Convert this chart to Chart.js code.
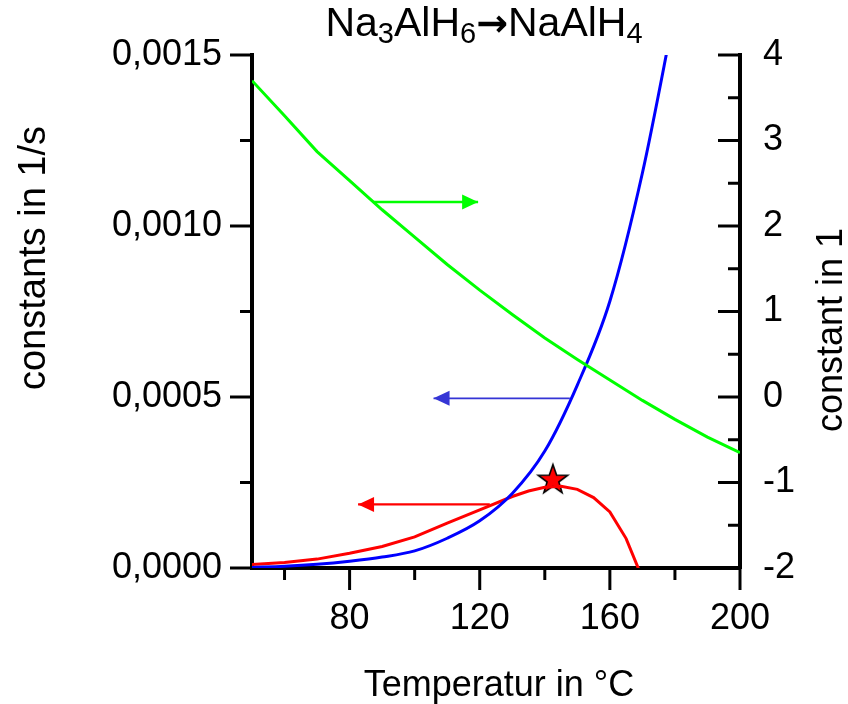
<!DOCTYPE html>
<html>
<head>
<meta charset="utf-8">
<script src="https://cdn.jsdelivr.net/npm/chart.js@4/dist/chart.umd.min.js"></script>
<style>
  html, body { margin: 0; padding: 0; background: #fff; }
  canvas { display: block; }
</style>
</head>
<body>
<canvas id="c" width="848" height="704"></canvas>
<script>
// Temperature grid (°C)
const tempsBlue = [50, 60, 70, 80, 90, 100, 110, 120, 130, 140, 150, 160, 170, 180];
const tempsRed = [50, 60, 70, 80, 90, 100, 110, 120, 130, 135, 140, 145, 150, 155, 160, 165, 170];
const tempsGreen = [50, 60, 70, 80, 90, 100, 110, 120, 130, 140, 150, 160, 170, 180, 190, 200];

// Rate constants in 1/s (left axis)
const rateBlue = [0.0000015, 0.000005, 0.000011, 0.000020, 0.000032, 0.000050, 0.000087, 0.000138,
                  0.000218, 0.000342, 0.000535, 0.000780, 0.001155, 0.001630];
const rateRed = [0.000010, 0.000016, 0.000026, 0.000043, 0.000063, 0.000091, 0.000131, 0.000170,
                 0.000209, 0.000225, 0.000236, 0.000239, 0.000230, 0.000206, 0.000164, 0.000086, -0.000030];

// Dimensionless constant (right axis)
const constGreen = [3.70, 3.29, 2.87, 2.53, 2.19, 1.87, 1.55, 1.25, 0.965, 0.69, 0.44, 0.20,
                    -0.04, -0.262, -0.47, -0.65];

// Maximum of the red curve
const starTemp = [142.5];
const starRate = [0.000260];

// Arrows pointing to the axis each curve belongs to: [start, tip]
const arrowGreenT = [87.2, 119.5];
const arrowGreenY = [2.28, 2.28];
const arrowBlueT = [147.7, 105.8];
const arrowBlueY = [0.000496, 0.000496];
const arrowRedT = [123.1, 82.6];
const arrowRedY = [0.000186, 0.000186];

// Axis ticks
const xMajor = [80, 120, 160, 200];
const xMinor = [60, 100, 140, 180];
const yMajor = [0, 0.0005, 0.0010, 0.0015];
const yMinor = [0.00025, 0.00075, 0.00125];
const y1Major = [-2, -1, 0, 1, 2, 3, 4];
const y1Minor = [-1.5, -0.5, 0.5, 1.5, 2.5, 3.5];

const FONT = "'Liberation Sans', Arial, Helvetica, sans-serif";

const pts = (xs, ys) => xs.map((x, i) => ({ x, y: ys[i] }));

function makeStar(size, fill, stroke) {
  const c = document.createElement('canvas');
  c.width = size; c.height = size;
  const g = c.getContext('2d');
  const cx = size / 2, cy = size / 2 + 1, R = size / 2 - 2.5, r = R * 0.4;
  g.beginPath();
  for (let i = 0; i < 10; i++) {
    const a = -Math.PI / 2 + i * Math.PI / 5;
    const rr = i % 2 ? r : R;
    g.lineTo(cx + rr * Math.cos(a), cy + rr * Math.sin(a));
  }
  g.closePath();
  g.fillStyle = fill; g.fill();
  g.lineWidth = 1.6; g.strokeStyle = stroke; g.lineJoin = 'miter'; g.stroke();
  return c;
}

const lineDs = (label, data, color, width, axis, extra) => Object.assign({
  label, data, borderColor: color, backgroundColor: color, borderWidth: width,
  pointRadius: 0, tension: 0, yAxisID: axis, showLine: true, fill: false
}, extra || {});

// Arrowheads at the last point of every dataset flagged with arrowHead
const arrowHeads = {
  id: 'arrowHeads',
  afterDatasetsDraw(chart) {
    const ctx = chart.ctx;
    chart.data.datasets.forEach((ds, i) => {
      if (!ds.arrowHead) return;
      const p = chart.getDatasetMeta(i).data;
      const a = p[p.length - 2], b = p[p.length - 1];
      const ang = Math.atan2(b.y - a.y, b.x - a.x);
      const L = 16, W = 7.5;
      ctx.save();
      ctx.translate(b.x, b.y);
      ctx.rotate(ang);
      ctx.beginPath();
      ctx.moveTo(0, 0);
      ctx.lineTo(-L, -W);
      ctx.lineTo(-L, W);
      ctx.closePath();
      ctx.fillStyle = ds.borderColor;
      ctx.fill();
      ctx.restore();
    });
  }
};

// Major / minor tick marks: outward on left and bottom, inward on the right
const tickMarks = {
  id: 'tickMarks',
  afterDraw(chart) {
    const { ctx, chartArea: b, scales } = chart;
    ctx.save();
    ctx.strokeStyle = '#000';
    ctx.lineWidth = 3;
    const seg = (x1, y1, x2, y2) => { ctx.beginPath(); ctx.moveTo(x1, y1); ctx.lineTo(x2, y2); ctx.stroke(); };
    xMajor.forEach(v => { const p = scales.x.getPixelForValue(v); seg(p, b.bottom, p, b.bottom + 22); });
    xMinor.forEach(v => { const p = scales.x.getPixelForValue(v); seg(p, b.bottom, p, b.bottom + 12); });
    yMajor.forEach(v => { const p = scales.y.getPixelForValue(v); seg(b.left, p, b.left - 22, p); });
    yMinor.forEach(v => { const p = scales.y.getPixelForValue(v); seg(b.left, p, b.left - 12, p); });
    y1Major.forEach(v => { const p = scales.y1.getPixelForValue(v); seg(b.right, p, b.right - 22, p); });
    y1Minor.forEach(v => { const p = scales.y1.getPixelForValue(v); seg(b.right, p, b.right - 12, p); });
    ctx.restore();
  }
};

// Chart title with subscripts and the axis titles
const titleParts = [['Na', 0], ['3', 1], ['AlH', 0], ['6', 1], ['\u2192', 2], ['NaAlH', 0], ['4', 1]];
const texts = {
  id: 'texts',
  afterDraw(chart) {
    const ctx = chart.ctx;
    ctx.save();
    ctx.fillStyle = '#000';
    ctx.textBaseline = 'alphabetic';
    const fonts = ['41px ' + FONT, '29px ' + FONT, 'bold 38px "DejaVu Sans", ' + FONT];
    const lift = [0, -7, 0];
    let total = 0;
    titleParts.forEach(([t, s]) => { ctx.font = fonts[s]; total += ctx.measureText(t).width; });
    let x = 484 - total / 2;
    ctx.textAlign = 'left';
    titleParts.forEach(([t, s]) => {
      ctx.font = fonts[s];
      ctx.fillText(t, x, 36 - lift[s]);
      x += ctx.measureText(t).width;
    });

    ctx.font = '36px ' + FONT;
    ctx.textAlign = 'center';
    ctx.textBaseline = 'middle';
    ctx.fillText('Temperatur in \u00B0C', 499, 686);

    ctx.save();
    ctx.translate(35, 258);
    ctx.rotate(-Math.PI / 2);
    ctx.font = '38px ' + FONT;
    ctx.fillText('constants in 1/s', 0, 0);
    ctx.restore();

    ctx.save();
    ctx.translate(832, 330);
    ctx.rotate(-Math.PI / 2);
    ctx.font = '36px ' + FONT;
    ctx.fillText('constant in 1', 0, 0);
    ctx.restore();
    ctx.restore();
  }
};

const setTicks = list => scale => { scale.ticks = list.map(v => ({ value: v })); };

new Chart(document.getElementById('c'), {
  type: 'scatter',
  data: {
    datasets: [
      lineDs('K', pts(tempsGreen, constGreen), '#00ff00', 3, 'y1'),
      lineDs('k blue', pts(tempsBlue, rateBlue), '#0000ff', 3, 'y', { cubicInterpolationMode: 'monotone' }),
      lineDs('k red', pts(tempsRed, rateRed), '#ff0000', 3, 'y'),
      lineDs('arrow green', pts(arrowGreenT, arrowGreenY), '#00ff00', 2.6, 'y1', { arrowHead: true }),
      lineDs('arrow blue', pts(arrowBlueT, arrowBlueY), '#3535d5', 1.7, 'y', { arrowHead: true }),
      lineDs('arrow red', pts(arrowRedT, arrowRedY), '#ff0000', 2.2, 'y', { arrowHead: true }),
      {
        label: 'maximum', data: pts(starTemp, starRate), yAxisID: 'y', showLine: false,
        pointStyle: makeStar(36, '#ff0000', '#000000'), pointRadius: 18, pointHoverRadius: 18
      }
    ]
  },
  options: {
    responsive: false,
    animation: false,
    devicePixelRatio: 1,
    layout: { padding: { top: 55, left: 0, right: 0, bottom: 0 } },
    plugins: { legend: { display: false }, tooltip: { enabled: false }, title: { display: false } },
    scales: {
      x: {
        type: 'linear', position: 'bottom', min: 50, max: 200,
        grid: { display: false, drawTicks: false },
        border: { display: true, color: '#000', width: 4 },
        ticks: { color: '#000', font: { family: FONT, size: 36 }, padding: 29, maxRotation: 0,
                 callback: v => String(v) },
        afterBuildTicks: setTicks(xMajor),
        afterFit: s => { s.height = 136; }
      },
      y: {
        type: 'linear', position: 'left', min: 0, max: 0.0015,
        grid: { display: false, drawTicks: false },
        border: { display: true, color: '#000', width: 4 },
        ticks: { color: '#000', font: { family: FONT, size: 36 }, padding: 30,
                 callback: v => v.toFixed(4).replace('.', ',') },
        afterBuildTicks: setTicks(yMajor),
        afterFit: s => { s.width = 252; }
      },
      y1: {
        type: 'linear', position: 'right', min: -2, max: 4,
        grid: { display: false, drawTicks: false },
        border: { display: true, color: '#000', width: 4 },
        ticks: { color: '#000', font: { family: FONT, size: 36 }, padding: 23,
                 callback: v => String(v) },
        afterBuildTicks: setTicks(y1Major),
        afterFit: s => { s.width = 108; }
      }
    }
  },
  plugins: [arrowHeads, tickMarks, texts]
});
</script>
</body>
</html>
